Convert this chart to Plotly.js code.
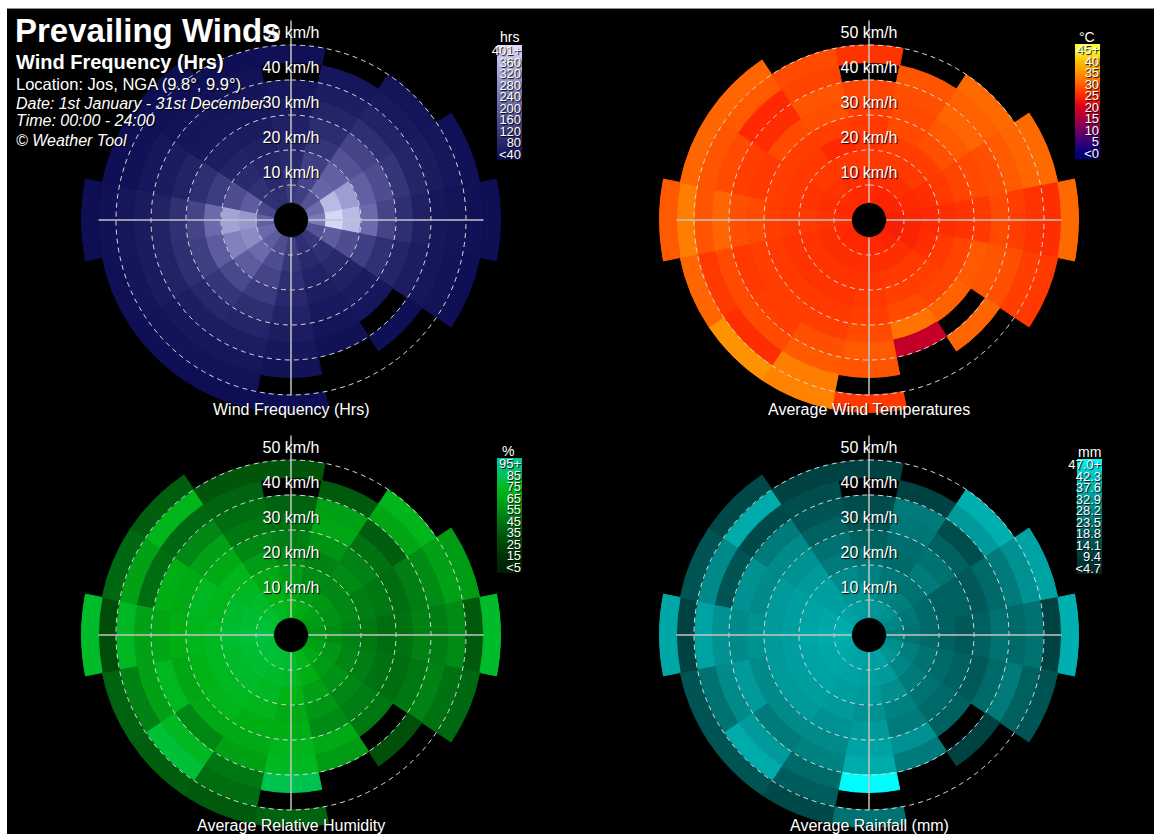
<!DOCTYPE html>
<html>
<head>
<meta charset="utf-8">
<script src="https://cdn.plot.ly/plotly-3.0.1.min.js"></script>
<style>
  html, body { margin: 0; padding: 0; background: #ffffff; overflow: hidden; }
  #chart { position: absolute; left: 7px; top: 8px; width: 1147px; height: 840px; border-top: 1px solid #8a8a8a; }
</style>
</head>
<body>
<div id="chart"></div>
<script>
// Wind directions (16 sectors, clockwise from north)
const directions = ['N','NNE','NE','ENE','E','ESE','SE','SSE','S','SSW','SW','WSW','W','WNW','NW','NNW'];
// Lower edge of each wind-speed band, km/h (bands are 5 km/h wide)
const speedBands = [5, 10, 15, 20, 25, 30, 35, 40, 45, 50, 55];
const bandWidth = 5;
// Speed rings labelled on the north axis
const speedRings = [10, 20, 30, 40, 50];

// Hours of wind per direction / speed band (null = no wind recorded)
const freqHrs = [
  [95, 80, 65, 55, 45, 35, 25, null, 12],
  [110, 120, 110, 90, 70, 55, 40, 25],
  [150, 190, 180, 150, 120, 75, 50, 30, 20],
  [200, 340, 290, 180, 140, 90, 55, 35, 25, 15],
  [230, 390, 340, 200, 120, 75, 45, 25, 20, 15, 10],
  [150, 170, 140, 110, 80, 55, 38, 26, 18, 10],
  [92, 78, 62, 48, 36, 26, null, 10],
  [78, 62, 50, 40, 30, 22, 14],
  [110, 90, 75, 62, 50, 38, 28, 18, null, 8],
  [140, 140, 120, 100, 75, 55, 38, 26, 16, 9],
  [170, 200, 170, 130, 90, 60, 40, 28, 18, 10],
  [200, 260, 240, 170, 110, 75, 50, 35, 22, 12],
  [180, 280, 300, 200, 120, 80, 50, 35, 25, 15, 8],
  [130, 170, 140, 105, 75, 50, 35, 25, 15, 10],
  [80, 80, 65, 50, 38, 28, 22, 16, 12, 8],
  [75, 65, 55, 45, 35, 28, 22, 16, 10]
];

// Average temperature of the wind, °C
const tempC = [
  [25, 25.5, 26.5, 26, 26.5, 27, 27.5, null, 26],
  [24.5, 25.5, 26.5, 27, 28, 28, 28.5, 29],
  [24.5, 25.5, 26.5, 27, 28.5, 29.5, 30.5, 30, 31],
  [24.5, 25, 25.5, 26.5, 27.5, 28, 28.5, 29.5, 30.5, 31],
  [24, 24.5, 25, 25.5, 26, 26.5, 28, 27, 26, 25.5, 31],
  [24, 24.5, 25.5, 26.5, 27.5, 29.5, 29, 28.5, 27, 26.5],
  [24.5, 25.5, 26.5, 27, 27.5, 30, null, 30.5],
  [25, 25.5, 26.5, 27, 28, 32, 18],
  [25, 25.5, 26, 26.5, 27, 28, 29.5, 29, null, 26.5],
  [25, 25.5, 26, 26, 26.5, 27, 28.5, 29.5, 33, 33.5],
  [25, 25.5, 26, 26, 26.5, 27, 27, 28, 25.5, 35],
  [25, 25.5, 26, 26, 26.5, 27, 26.5, 28, 26.5, 30.5],
  [25.5, 26, 26.5, 26.5, 27, 28, 28.5, 30.5, 29, 33, 29.5],
  [25, 25.5, 26, 26.5, 27, 26.5, 27, 28, 29, 30.5],
  [25.5, 26, 26.5, 26.5, 27, 28, 25.5, 25, 29.5, 30.5],
  [25, 25.5, 26.5, 25, 27, 28.5, 29, 27.5, 28]
];

// Average relative humidity of the wind, %
const humidityPct = [
  [70, 66, 60, 54, 48, 44, 38, null, 32],
  [66, 60, 54, 50, 57, 64, 62, 34],
  [62, 58, 52, 54, 50, 44, 36, 64, 72],
  [60, 56, 52, 48, 46, 42, 48, 54, 62, 60],
  [58, 54, 50, 46, 42, 44, 50, 48, 54, 34, 76],
  [62, 58, 52, 48, 44, 42, 46, 50, 44, 40],
  [66, 60, 56, 52, 48, 46, null, 30],
  [72, 68, 62, 58, 54, 66, 60],
  [76, 74, 70, 66, 68, 72, 74, 84, null, 38],
  [78, 76, 74, 72, 68, 66, 62, 46, 42, 34],
  [80, 78, 76, 74, 72, 66, 52, 74, 80, 36],
  [80, 78, 76, 74, 70, 64, 74, 62, 50, 38],
  [82, 80, 78, 74, 72, 68, 64, 62, 74, 28, 76],
  [80, 78, 76, 72, 74, 66, 68, 42, 62, 40],
  [78, 76, 74, 72, 66, 62, 52, 40, 72, 36],
  [74, 70, 66, 60, 52, 46, 42, 38, 32]
];

// Average rainfall, mm
const rainfallMm = [
  [33, 31, 27, 23, 19, 16, 14, null, 11],
  [32, 28, 24, 21, 22, 24, 25, 11],
  [30, 26, 23, 25, 23, 19, 14, 33, 38],
  [28, 24, 21, 19, 19, 17, 21, 25, 31, 35],
  [26, 23, 21, 19, 17, 19, 23, 21, 23, 11, 38],
  [30, 26, 23, 21, 19, 17, 21, 25, 19, 16],
  [32, 28, 25, 23, 21, 19, null, 11],
  [35, 33, 30, 27, 25, 31, 25],
  [34, 34, 33, 31, 33, 35, 37, 49, null, 23],
  [35, 35, 34, 33, 31, 29, 27, 21, 18, 13],
  [36, 36, 35, 34, 33, 29, 25, 33, 37, 16],
  [37, 36, 35, 34, 33, 29, 33, 29, 23, 16],
  [38, 37, 36, 34, 33, 31, 29, 31, 35, 11, 36],
  [37, 36, 35, 34, 33, 29, 31, 16, 29, 16],
  [35, 34, 34, 33, 31, 29, 25, 13, 37, 13],
  [34, 32, 29, 25, 23, 19, 16, 14, 11]
];

// Colour-bar tick labels
const freqTicks = ['<40', '80', '120', '160', '200', '240', '280', '320', '360', '401+'];
const tempTicks = ['<0', '5', '10', '15', '20', '25', '30', '35', '40', '45+'];
const humidityTicks = ['<5', '15', '25', '35', '45', '55', '65', '75', '85', '95+'];
const rainTicks = ['<4.7', '9.4', '14.1', '18.8', '23.5', '28.2', '32.9', '37.6', '42.3', '47.0+'];

// ---- page geometry (pixels inside the plot div) ----
const W = 1147, H = 840;
const R_MAX = 60;                     // outer edge of every rose, km/h
const PX_PER_KMH = 3.5;
const RAD = R_MAX * PX_PER_KMH;       // 210 px
const centres = [[284, 211], [862, 211], [284, 626], [862, 626]];

const FONT = 'Liberation Sans, Arial, sans-serif';
const SHADOW = '1px 1px 1px #000000';

function domainFor(c) {
  return {
    x: [(c[0] - RAD) / W, (c[0] + RAD) / W],
    y: [1 - (c[1] + RAD) / H, 1 - (c[1] - RAD) / H]
  };
}

function cellArrays(values) {
  const out = { r: [], base: [], theta: [], v: [] };
  values.forEach((bands, d) => {
    bands.forEach((val, k) => {
      if (val === null || val === undefined) return;
      out.r.push(bandWidth);
      out.base.push(speedBands[k]);
      out.theta.push(d * 360 / directions.length);
      out.v.push(val);
    });
  });
  return out;
}

// colour stops given in data units -> plotly colorscale
function scaleFrom(stops, cmin, cmax) {
  return stops.map(([v, col]) => [Math.min(1, Math.max(0, (v - cmin) / (cmax - cmin))), col]);
}

function roseTrace(values, sub, colorscale, cmin, cmax, tickvals, ticktext, cbX, cbY) {
  const c = cellArrays(values);
  return {
    type: 'barpolar',
    subplot: sub,
    r: c.r,
    base: c.base,
    theta: c.theta,
    width: 360 / directions.length,
    hoverinfo: 'skip',
    marker: {
      color: c.v,
      colorscale: colorscale,
      cmin: cmin,
      cmax: cmax,
      // outline each cell in its own colour so neighbouring cells meet without seams
      line: { width: 1, color: c.v, colorscale: colorscale, cmin: cmin, cmax: cmax },
      showscale: true,
      colorbar: {
        x: cbX / W, xanchor: 'left',
        y: 1 - cbY / H, yanchor: 'top',
        len: 115, lenmode: 'pixels',
        thickness: 25, thicknessmode: 'pixels',
        xpad: 0, ypad: 0,
        outlinewidth: 0,
        tickmode: 'array',
        tickvals: tickvals,
        ticktext: ticktext,
        ticks: '',
        ticklabelposition: 'inside',
        ticklabeloverflow: 'allow',
        tickfont: { family: FONT, size: 13, color: '#ffffff', shadow: SHADOW }
      }
    }
  };
}

// dashed speed rings drawn over the cells
function ringTrace(sub) {
  const r = [], t = [];
  speedRings.forEach(v => {
    for (let a = 0; a <= 360; a += 2) { r.push(v); t.push(a); }
    r.push(null); t.push(null);
  });
  return {
    type: 'scatterpolar', subplot: sub, mode: 'lines', r: r, theta: t,
    line: { color: '#d8d8d8', width: 1, dash: '5px,4px' }, hoverinfo: 'skip'
  };
}

// compass cross-hair (starts at the calm circle)
const crossReach = { N: 57, E: 55, S: 50, W: 55 };
function crossTrace(sub) {
  const r = [], t = [];
  [['N', 0], ['E', 90], ['S', 180], ['W', 270]].forEach(([k, a]) => {
    r.push(bandWidth, crossReach[k], null); t.push(a, a, null);
  });
  return {
    type: 'scatterpolar', subplot: sub, mode: 'lines', r: r, theta: t,
    line: { color: '#c4c4c4', width: 1.5 }, hoverinfo: 'skip'
  };
}

function labelTrace(sub) {
  return {
    type: 'scatterpolar', subplot: sub, mode: 'text',
    r: speedRings.map(v => v + 3.2),
    theta: speedRings.map(() => 0),
    text: speedRings.map(v => v + ' km/h'),
    textposition: 'middle center',
    textfont: { family: FONT, size: 16, color: '#ffffff', shadow: SHADOW },
    hoverinfo: 'skip', cliponaxis: false
  };
}

const freqScale = [[0, '#0a0a50'], [0.5, '#6a6aac'], [1, '#dcdcff']];
const tempScale = scaleFrom([
  [-2.5, '#00007a'], [0, '#00007a'], [5, '#3a0078'], [10, '#700062'], [15, '#a8003e'],
  [20, '#d8001a'], [25, '#ff2800'], [30, '#ff6000'], [35, '#ff9200'], [40, '#ffc000'],
  [45, '#ffff30'], [47.5, '#ffff30']
], -2.5, 47.5);
const humidityScale = [
  [0.00, '#001c00'], [0.10, '#002a02'], [0.20, '#003c06'], [0.30, '#00500a'],
  [0.40, '#006810'], [0.50, '#008214'], [0.60, '#009c14'], [0.70, '#00b414'],
  [0.80, '#00c038'], [0.90, '#00c472'], [1.00, '#00c8a0']
];
const rainScale = [
  [0.00, '#002626'], [0.10, '#003434'], [0.20, '#004444'], [0.30, '#005656'],
  [0.40, '#006a6a'], [0.50, '#007e7e'], [0.60, '#009090'], [0.70, '#00a4a4'],
  [0.80, '#00b8b8'], [0.90, '#00d2d2'], [1.00, '#00ffff']
];

const tickCentres = (lo, step, n) => Array.from({ length: n }, (_, i) => lo + step * i);

const traces = [];
const subs = ['polar', 'polar2', 'polar3', 'polar4'];
traces.push(roseTrace(freqHrs, 'polar', freqScale, 0, 400, tickCentres(20, 40, 10), freqTicks, 490, 36));
traces.push(roseTrace(tempC, 'polar2', tempScale, -2.5, 47.5, tickCentres(0, 5, 10), tempTicks, 1068, 35));
traces.push(roseTrace(humidityPct, 'polar3', humidityScale, 0, 100, tickCentres(5, 10, 10), humidityTicks, 490, 449));
traces.push(roseTrace(rainfallMm, 'polar4', rainScale, 2.35, 49.35, tickCentres(4.7, 4.7, 10), rainTicks, 1070, 450));
subs.forEach(s => { traces.push(ringTrace(s)); traces.push(crossTrace(s)); traces.push(labelTrace(s)); });

function polarLayout(c) {
  return {
    domain: domainFor(c),
    bgcolor: 'rgba(0,0,0,0)',
    radialaxis: { range: [0, R_MAX], visible: false },
    angularaxis: { rotation: 90, direction: 'clockwise', visible: false }
  };
}

const px = x => (x - 7) / W;
const py = y => 1 - (y - 9) / H;
function note(text, x, y, size, opts) {
  return Object.assign({
    text: text, xref: 'paper', yref: 'paper', x: px(x), y: py(y),
    xanchor: 'left', yanchor: 'middle', showarrow: false,
    font: { family: FONT, size: size, color: '#ffffff', shadow: SHADOW }
  }, opts || {});
}

const annotations = [
  note('<b>Prevailing Winds</b>', 13, 30, 33),
  note('<b>Wind Frequency (Hrs)</b>', 14, 62, 20),
  note('Location: Jos, NGA (9.8°, 9.9°)', 14, 84, 16.5),
  note('<i>Date: 1st January - 31st December</i>', 14, 103, 16),
  note('<i>Time: 00:00 - 24:00</i>', 14, 121, 16),
  note('<i>© Weather Tool</i>', 14, 140, 16),
  note('Wind Frequency (Hrs)', 291, 409, 16, { xanchor: 'center' }),
  note('Average Wind Temperatures', 869, 409, 16, { xanchor: 'center' }),
  note('Average Relative Humidity', 291, 825, 16, { xanchor: 'center' }),
  note('Average Rainfall (mm)', 869, 825, 16, { xanchor: 'center' }),
  // colour-bar unit captions
  note('hrs', 509, 37, 14, { xanchor: 'center' }),
  note('°C', 1087, 37, 14, { xanchor: 'center' }),
  note('%', 508, 451, 14, { xanchor: 'center' }),
  note('mm', 1089, 452, 14, { xanchor: 'center' })
];

const layout = {
  width: W, height: H,
  margin: { l: 0, r: 0, t: 0, b: 0 },
  paper_bgcolor: '#000000',
  plot_bgcolor: '#000000',
  showlegend: false,
  polar: polarLayout(centres[0]),
  polar2: polarLayout(centres[1]),
  polar3: polarLayout(centres[2]),
  polar4: polarLayout(centres[3]),
  annotations: annotations
};

Plotly.newPlot('chart', traces, layout, { displayModeBar: false, staticPlot: true });
</script>
</body>
</html>
